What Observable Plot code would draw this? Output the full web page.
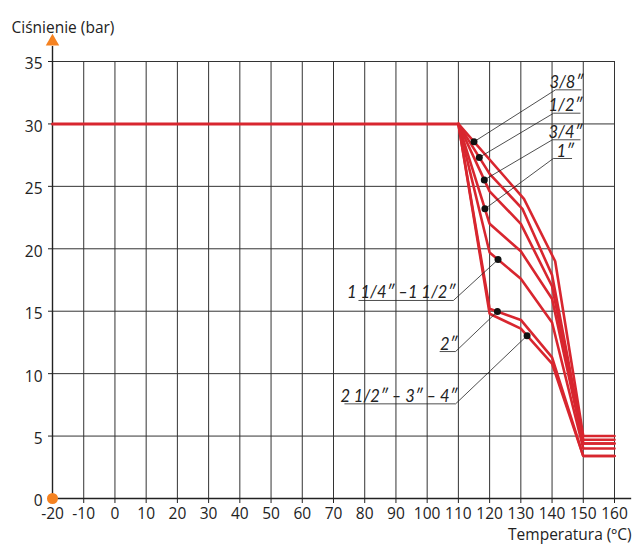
<!DOCTYPE html>
<html>
<head>
<meta charset="utf-8">
<script src="https://cdn.jsdelivr.net/npm/d3@7"></script>
<script src="https://cdn.jsdelivr.net/npm/@observablehq/plot@0.6"></script>
<style>
  html, body { margin: 0; padding: 0; background: #fff; }
</style>
</head>
<body>
<div id="chart"></div>
<script>
// ---- data ----
const xTicks = [-20, -10, 0, 10, 20, 30, 40, 50, 60, 70, 80, 90, 100, 110, 120, 130, 140, 150, 160];
const yTicks = [0, 5, 10, 15, 20, 25, 30, 35];
const yLabel = "Ciśnienie (bar)";
const xLabel = "Temperatura (ºC)";

// common flat section of all curves
const flatTemps = [-20, 110];
const flatPress = [30, 30];

const curveNames = ["3/8″", "1/2″", "3/4″", "1″", "1 1/4″ –1 1/2″", "2″", "2 1/2″ – 3″ – 4″"];
const curveTemps = [
  [110, 131, 141, 150, 160],
  [110, 120, 130.5, 140, 150, 160],
  [110, 120, 130, 140, 150, 160],
  [110, 120, 130, 140, 150, 160],
  [110, 120, 130, 140, 150, 160],
  [110, 120, 130, 140, 150, 160],
  [110, 120, 130, 140, 150, 160]
];
const curvePress = [
  [30, 24.0, 19.0, 5.0, 5.0],
  [30, 26.0, 23.2, 17.9, 4.7, 4.7],
  [30, 24.6, 22.0, 17.0, 4.4, 4.4],
  [30, 22.0, 19.8, 16.0, 4.4, 4.4],
  [30, 19.7, 17.6, 14.1, 4.0, 4.0],
  [30, 15.2, 14.3, 11.3, 3.4, 3.4],
  [30, 14.8, 13.6, 10.8, 3.4, 3.4]
];

// annotation: dot temperature on each curve, underline extent and level (data units)
const dotTemps   = [115, 116.7, 118.3, 118.5, 122.7, 122.5, 132];
const lineStartT = [141.1, 140.5, 140.1, 140.4, 78.0, 104.0, 73.5];
const lineEndT   = [149.4, 149.1, 149.1, 146.4, 108.4, 109.1, 109.1];
const lineLevelP = [32.73, 30.86, 28.73, 27.23, 15.86, 11.77, 7.58];
const leaderFromEnd = [false, false, false, false, true, true, true];

// ---- build tables ----
const flat = flatTemps.map((t, i) => ({t, p: flatPress[i]}));
const curves = curveNames.flatMap((name, k) =>
  curveTemps[k].map((t, i) => ({name, t, p: curvePress[k][i]})));

function interp(k, t) {
  const T = curveTemps[k], P = curvePress[k];
  for (let i = 0; i < T.length - 1; i++) {
    if (t >= T[i] && t <= T[i + 1]) return P[i] + (P[i + 1] - P[i]) * (t - T[i]) / (T[i + 1] - T[i]);
  }
  return P[P.length - 1];
}
const labels = curveNames.map((name, k) => ({
  name,
  dt: dotTemps[k], dp: interp(k, dotTemps[k]),
  x1: lineStartT[k], x2: lineEndT[k], y: lineLevelP[k],
  lx: leaderFromEnd[k] ? lineEndT[k] : lineStartT[k]
}));

const red = "#d8262f";
const orange = "#f58220";
const ink = "#222";
const font = "'Open Sans', Lato, sans-serif";

const chart = Plot.plot({
  width: 632,
  height: 546,
  marginLeft: 52,
  marginRight: 18,
  marginTop: 61,
  marginBottom: 48,
  x: {domain: [-20, 160], ticks: xTicks, tickSize: 5, tickFormat: () => "", label: null},
  y: {domain: [0, 35], ticks: yTicks, tickSize: 4, tickFormat: () => "", label: null},
  style: {fontFamily: font, fontSize: "15px", color: ink, background: "white"},
  marks: [
    // grid
    Plot.ruleX(xTicks.slice(1), {x: d => d, y1: 0, y2: 35, stroke: "#333", strokeWidth: 1}),
    Plot.ruleY(yTicks.slice(1), {y: d => d, x1: -20, x2: 160, stroke: "#333", strokeWidth: 1}),
    // axes with arrows
    Plot.ruleX([-20], {x: d => d, y1: 0, y2: 36.2, stroke: ink, strokeWidth: 1.4}),
    Plot.ruleY([0], {y: d => d, x1: -20, x2: 165.5, stroke: ink, strokeWidth: 1.4}),
    Plot.dot([-20], {x: d => d, y: 36.6, symbol: "triangle", r: 5, fill: orange, stroke: null}),
    Plot.dot([167.5], {x: d => d, y: 0, symbol: "square", r: 3.5, fill: orange, stroke: null}),
    // tick labels
    Plot.text(xTicks, {x: d => d, frameAnchor: "bottom", dy: 20, text: d => String(d), fill: ink, fontSize: 15.5, fontFamily: font}),
    Plot.text(yTicks, {y: d => d, frameAnchor: "left", dx: -10, dy: 3, textAnchor: "end", text: d => String(d), fill: ink, fontSize: 15.5, fontFamily: font}),
    // axis titles
    Plot.text([yLabel], {frameAnchor: "top-left", dx: -41, dy: -40, textAnchor: "start", fill: ink, fontSize: 15.5, fontFamily: font}),
    Plot.text([xLabel], {frameAnchor: "bottom-right", dx: 17, dy: 41, textAnchor: "end", fill: ink, fontSize: 15.5, fontFamily: font}),
    // curves
    Plot.line(flat, {x: "t", y: "p", stroke: red, strokeWidth: 3}),
    Plot.line(curves, {x: "t", y: "p", z: "name", stroke: red, strokeWidth: 2.6, strokeLinejoin: "miter"}),
    // origin marker
    Plot.dot([-20], {x: d => d, y: 0, r: 5.5, fill: orange, stroke: null}),
    // annotations
    Plot.link(labels, {x1: "x1", x2: "x2", y1: "y", y2: "y", stroke: ink, strokeWidth: 0.8}),
    Plot.link(labels, {x1: "lx", y1: "y", x2: "dt", y2: "dp", stroke: ink, strokeWidth: 0.8}),
    Plot.dot(labels, {x: "dt", y: "dp", r: 3.5, fill: "#111", stroke: null}),
    Plot.text(labels, {x: "x2", y: "y", text: "name", textAnchor: "end", lineAnchor: "bottom", dx: 2, dy: -2,
      fontStyle: "italic", fontSize: 16.5, fontFamily: "Lato, sans-serif", fill: ink})
  ]
});
document.getElementById("chart").appendChild(chart);
</script>
</body>
</html>
